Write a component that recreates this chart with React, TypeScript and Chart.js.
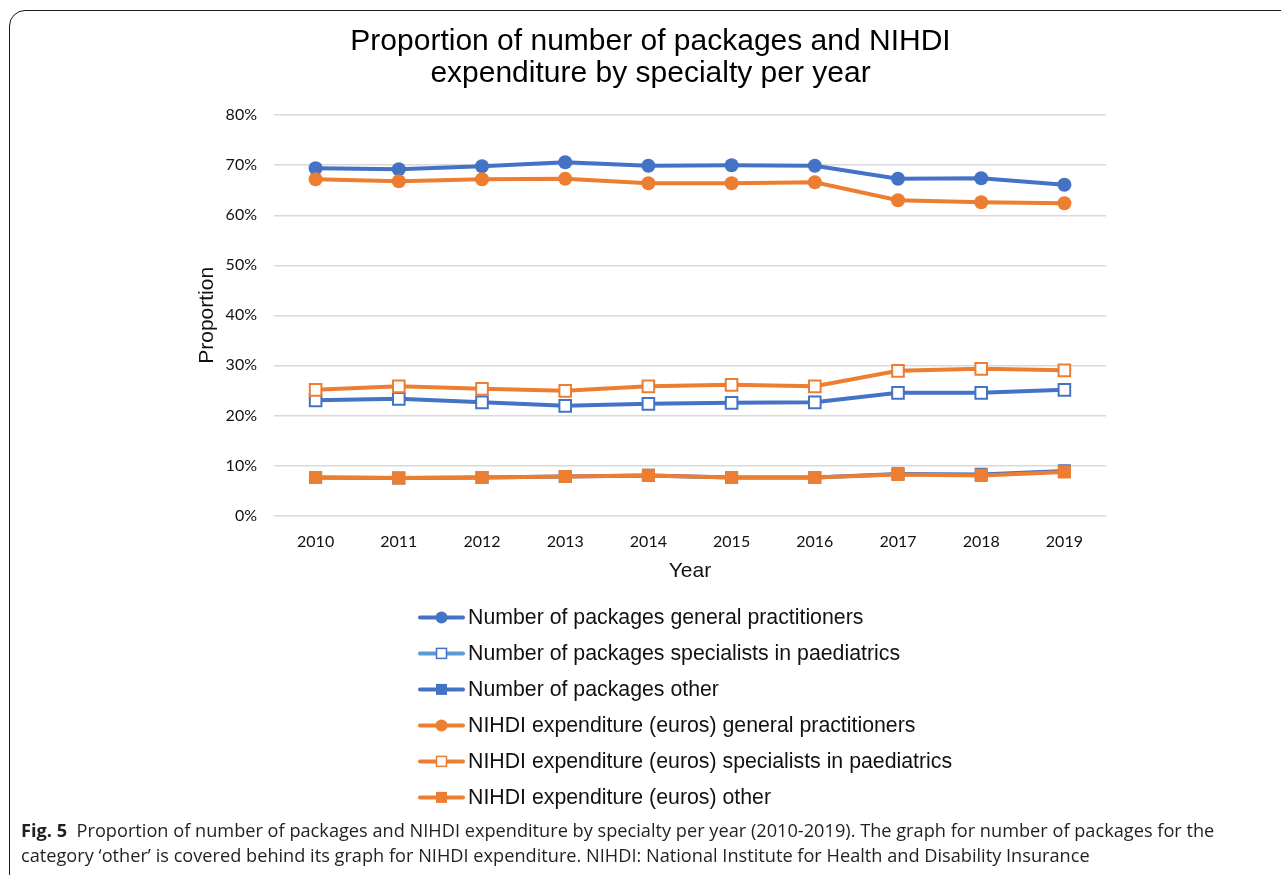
import React, { useEffect, useRef } from 'react';
import { Chart, registerables } from 'chart.js';

Chart.register(...registerables);

// Years on the x axis
const years = ['2010', '2011', '2012', '2013', '2014', '2015', '2016', '2017', '2018', '2019'];

// Share (%) of the number of packages, by prescriber specialty
const packagesGP = [69.4, 69.2, 69.8, 70.6, 69.9, 70.0, 69.9, 67.3, 67.4, 66.1];
const packagesPaed = [23.0, 23.3, 22.6, 21.9, 22.3, 22.5, 22.6, 24.5, 24.5, 25.1];
const packagesOther = [7.6, 7.5, 7.6, 7.8, 8.0, 7.6, 7.6, 8.3, 8.2, 8.9];

// Share (%) of NIHDI expenditure (euros), by prescriber specialty
const expenditureGP = [67.2, 66.8, 67.2, 67.3, 66.4, 66.4, 66.6, 63.0, 62.6, 62.4];
const expenditurePaed = [25.1, 25.8, 25.3, 24.9, 25.8, 26.1, 25.8, 28.9, 29.3, 29.0];
const expenditureOther = [7.6, 7.5, 7.6, 7.8, 8.0, 7.6, 7.6, 8.2, 8.0, 8.7];

// Y axis ticks (%)
const yTicks = [0, 10, 20, 30, 40, 50, 60, 70, 80];

const seriesLabels = [
  'Number of packages general practitioners',
  'Number of packages specialists in paediatrics',
  'Number of packages other',
  'NIHDI expenditure (euros) general practitioners',
  'NIHDI expenditure (euros) specialists in paediatrics',
  'NIHDI expenditure (euros) other',
];

const BLUE = '#4472C4';
const LIGHT_BLUE = '#5B9BD5';
const ORANGE = '#ED7D31';

type Marker = 'circle' | 'openSquare' | 'square';

const seriesValues = [packagesGP, packagesPaed, packagesOther, expenditureGP, expenditurePaed, expenditureOther];
const seriesColors = [BLUE, BLUE, BLUE, ORANGE, ORANGE, ORANGE];
const legendLineColors = [BLUE, LIGHT_BLUE, BLUE, ORANGE, ORANGE, ORANGE];
const seriesMarkers: Marker[] = ['circle', 'openSquare', 'square', 'circle', 'openSquare', 'square'];

function markerProps(marker: Marker, color: string) {
  if (marker === 'circle') {
    return { pointStyle: 'circle', pointRadius: 7, pointBackgroundColor: color, pointBorderColor: color, pointBorderWidth: 0 };
  }
  if (marker === 'openSquare') {
    return { pointStyle: 'rect', pointRadius: 8.2, pointBackgroundColor: '#ffffff', pointBorderColor: color, pointBorderWidth: 2 };
  }
  return { pointStyle: 'rect', pointRadius: 9.2, pointBackgroundColor: color, pointBorderColor: color, pointBorderWidth: 0 };
}

// Vertical legend drawn under the x axis, one entry per row
const stackedLegend = {
  id: 'stackedLegend',
  afterDraw(chart: Chart) {
    const ctx = chart.ctx;
    const { bottom } = chart.chartArea;
    const lineStart = 405;
    const lineEnd = 448;
    const markerX = 426.5;
    const textX = 453;
    ctx.save();
    chart.data.datasets.forEach((_, i) => {
      const y = bottom + 102 + i * 36;
      ctx.strokeStyle = legendLineColors[i];
      ctx.lineWidth = 4;
      ctx.lineCap = 'round';
      ctx.beginPath();
      ctx.moveTo(lineStart, y);
      ctx.lineTo(lineEnd, y);
      ctx.stroke();
      const m = seriesMarkers[i];
      const c = seriesColors[i];
      if (m === 'circle') {
        ctx.fillStyle = c;
        ctx.beginPath();
        ctx.arc(markerX, y, 6, 0, Math.PI * 2);
        ctx.fill();
      } else if (m === 'openSquare') {
        ctx.fillStyle = '#ffffff';
        ctx.fillRect(markerX - 5, y - 5, 10, 10);
        ctx.strokeStyle = c;
        ctx.lineWidth = 1.5;
        ctx.strokeRect(markerX - 5, y - 5, 10, 10);
      } else {
        ctx.fillStyle = c;
        ctx.fillRect(markerX - 5.5, y - 5.5, 11, 11);
      }
      ctx.fillStyle = '#111111';
      ctx.font = '21.3px "Liberation Sans", Arial, sans-serif';
      ctx.textAlign = 'left';
      ctx.textBaseline = 'middle';
      ctx.fillText(seriesLabels[i], textX, y + 1);
    });
    ctx.restore();
  },
};

export default function App() {
  const canvasRef = useRef<HTMLCanvasElement | null>(null);

  useEffect(() => {
    const canvas = canvasRef.current;
    if (!canvas) return;
    const datasets = seriesValues.map((values, i) => ({
      label: seriesLabels[i],
      data: values,
      borderColor: seriesColors[i],
      backgroundColor: seriesColors[i],
      borderWidth: 4,
      tension: 0,
      order: 6 - i,
      ...markerProps(seriesMarkers[i], seriesColors[i]),
    }));

    const chart = new Chart(canvas, {
      type: 'line',
      data: { labels: years, datasets: datasets as any },
      options: {
        responsive: false,
        animation: false,
        layout: { padding: { left: 180, right: 175, top: 0, bottom: 238 } },
        plugins: {
          legend: { display: false },
          tooltip: { enabled: false },
          title: {
            display: true,
            text: ['Proportion of number of packages and NIHDI', 'expenditure by specialty per year'],
            color: '#000000',
            font: { family: '"Liberation Sans", Arial, sans-serif', size: 30, weight: 'normal', lineHeight: 1.07 },
            padding: { top: 16, bottom: 25 },
          },
        },
        scales: {
          x: {
            offset: true,
            grid: { display: false, drawTicks: false },
            border: { display: false },
            ticks: {
              color: '#111111',
              font: { family: 'Lato, "Open Sans", sans-serif', size: 16 },
              padding: 17,
              maxRotation: 0,
            },
            title: {
              display: true,
              text: 'Year',
              color: '#111111',
              font: { family: '"Liberation Sans", Arial, sans-serif', size: 21 },
              padding: 0,
            },
            afterFit(scale: any) {
              scale.height = 68.6;
            },
          },
          y: {
            min: 0,
            max: 80,
            afterBuildTicks(scale: any) {
              scale.ticks = yTicks.map((v) => ({ value: v }));
            },
            grid: { color: '#D9D9D9', lineWidth: 1.5, drawTicks: false },
            border: { display: false },
            ticks: {
              color: '#111111',
              font: { family: 'Lato, "Open Sans", sans-serif', size: 16 },
              padding: 17,
              callback: (v: any) => `${v}%`,
            },
            title: {
              display: true,
              text: 'Proportion',
              color: '#111111',
              font: { family: '"Liberation Sans", Arial, sans-serif', size: 21 },
              padding: 0,
            },
            afterFit(scale: any) {
              scale.width = 79;
            },
          },
        },
      },
      plugins: [stackedLegend],
    });

    return () => chart.destroy();
  }, []);

  return (
    <div style={{ position: 'fixed', inset: 0, overflow: 'hidden', background: '#ffffff' }}>
      <div
        style={{
          position: 'absolute',
          left: 9,
          top: 10,
          width: 1320,
          height: 900,
          border: '1.5px solid #1a1a1a',
          borderRadius: 16,
          boxSizing: 'border-box',
        }}
      />
      <canvas ref={canvasRef} width={1266} height={812} style={{ position: 'absolute', left: 15, top: 10 }} />
      <div
        style={{
          position: 'absolute',
          left: 21,
          top: 818,
          fontFamily: '"Open Sans", sans-serif',
          fontSize: 18,
          lineHeight: '25px',
          color: '#231F20',
          whiteSpace: 'nowrap',
          transform: 'scaleX(1.01)',
          transformOrigin: 'left top',
        }}
      >
        <div>
          <b>Fig. 5</b>&nbsp; Proportion of number of packages and NIHDI expenditure by specialty per year (2010-2019). The
          graph for number of packages for the
        </div>
        <div>
          category ‘other’ is covered behind its graph for NIHDI expenditure. NIHDI: National Institute for Health and
          Disability Insurance
        </div>
      </div>
    </div>
  );
}
